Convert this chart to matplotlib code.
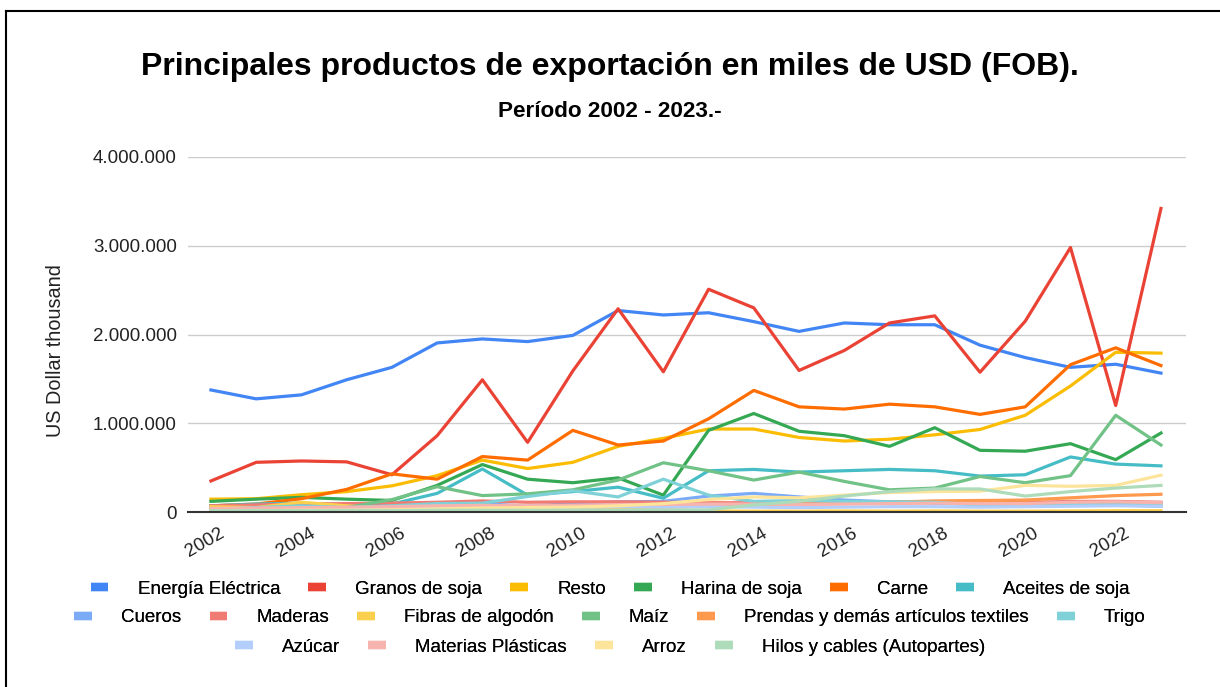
import matplotlib
matplotlib.use("Agg")
import matplotlib.pyplot as plt
import matplotlib.transforms as mtransforms
from matplotlib.lines import Line2D
from matplotlib.ticker import FuncFormatter
import numpy as np

plt.rcParams["font.family"] = ["Liberation Sans", "DejaVu Sans"]

years = list(range(2002, 2024))

# values in thousands of thousand-USD (x1000 when plotted)
energia  = [1375, 1275, 1320, 1490, 1630, 1905, 1950, 1920, 1990, 2270, 2220,
            2245, 2145, 2035, 2130, 2110, 2110, 1880, 1740, 1630, 1665, 1565]
granos   = [350, 560, 575, 565, 420, 860, 1490, 785, 1590, 2290, 1580,
            2510, 2300, 1595, 1820, 2130, 2210, 1575, 2150, 2980, 1200, 3420]
resto    = [145, 150, 195, 230, 295, 410, 585, 490, 560, 740, 830,
            935, 935, 840, 800, 820, 870, 930, 1090, 1420, 1800, 1790]
harina   = [120, 145, 165, 145, 130, 300, 535, 370, 330, 385, 190,
            920, 1110, 910, 860, 740, 950, 695, 685, 770, 590, 890]
carne    = [70, 90, 150, 255, 430, 370, 625, 585, 920, 755, 800,
            1050, 1370, 1185, 1160, 1215, 1185, 1100, 1185, 1660, 1850, 1650]
aceites  = [70, 90, 100, 80, 90, 210, 485, 190, 230, 280, 155,
            465, 480, 450, 465, 480, 465, 405, 420, 620, 540, 520]
cueros   = [60, 70, 75, 85, 90, 100, 95, 65, 95, 115, 120,
            180, 210, 170, 135, 115, 100, 85, 65, 90, 80, 65]
maderas  = [70, 80, 90, 95, 100, 110, 125, 110, 115, 115, 110,
            105, 105, 100, 100, 110, 115, 105, 105, 120, 120, 110]
fibras   = [60, 50, 110, 70, 45, 55, 35, 25, 40, 50, 30,
            12, 10, 10, 12, 10, 12, 10, 10, 12, 15, 15]
maiz     = [30, 40, 30, 50, 140, 285, 185, 205, 250, 360, 555,
            465, 360, 450, 345, 250, 270, 400, 330, 410, 1090, 755]
prendas  = [30, 35, 40, 45, 50, 55, 60, 55, 60, 65, 70,
            80, 85, 90, 95, 110, 125, 130, 135, 160, 185, 200]
trigo    = [30, 50, 70, 50, 70, 95, 100, 175, 240, 170, 370,
            190, 120, 130, 120, 115, 110, 80, 85, 95, 100, 95]
azucar   = [20, 25, 30, 30, 35, 40, 45, 50, 55, 60, 55,
            60, 55, 50, 55, 60, 60, 55, 60, 65, 70, 65]
materias = [40, 45, 50, 55, 60, 70, 75, 70, 75, 85, 85,
            90, 90, 85, 90, 95, 100, 95, 95, 110, 115, 105]
arroz    = [10, 15, 20, 20, 25, 35, 45, 50, 55, 70, 95,
            140, 170, 160, 190, 220, 230, 235, 300, 290, 300, 415]
hilos    = [15, 15, 15, 15, 15, 20, 20, 20, 20, 20, 20,
            25, 80, 120, 180, 230, 260, 260, 180, 230, 270, 300]

series = [
    ("Energía Eléctrica", energia, "#4285f4"),
    ("Granos de soja", granos, "#ea4335"),
    ("Resto", resto, "#fbbc04"),
    ("Harina de soja", harina, "#34a853"),
    ("Carne", carne, "#ff6d01"),
    ("Aceites de soja", aceites, "#46bdc6"),
    ("Cueros", cueros, "#7baaf7"),
    ("Maderas", maderas, "#f07b72"),
    ("Fibras de algodón", fibras, "#fcd04f"),
    ("Maíz", maiz, "#71c287"),
    ("Prendas y demás artículos textiles", prendas, "#ff994d"),
    ("Trigo", trigo, "#7ed1d7"),
    ("Azúcar", azucar, "#b3cefb"),
    ("Materias Plásticas", materias, "#f7b4ae"),
    ("Arroz", arroz, "#fde49b"),
    ("Hilos y cables (Autopartes)", hilos, "#aedcba"),
]
legend_rows = [6, 6, 4]

fig = plt.figure(figsize=(12.2, 6.87), dpi=100)
ax = fig.add_axes([0.154, 0.2547, 0.818, 0.5168])

for name, vals, color in series:
    ax.plot(years, np.array(vals) * 1000, color=color, lw=2.3,
            solid_joinstyle="round", label=name)

ax.set_xlim(2001.49, 2023.55)
ax.set_ylim(0, 4_000_000)
ax.set_yticks([0, 1_000_000, 2_000_000, 3_000_000, 4_000_000])
ax.yaxis.set_major_formatter(FuncFormatter(lambda v, p: f"{int(v):,}".replace(",", ".")))
ax.set_xticks(range(2002, 2023, 2))
ax.grid(axis="y", color="#cccccc", lw=1)
ax.set_axisbelow(True)
for s in ["top", "right", "left"]:
    ax.spines[s].set_visible(False)
ax.spines["bottom"].set_color("#333333")
ax.spines["bottom"].set_linewidth(1.5)
ax.tick_params(axis="both", length=0, labelsize=13.5, colors="#222222")
ax.tick_params(axis="y", pad=8)
ax.tick_params(axis="x", pad=9)
offset = mtransforms.ScaledTranslation(-6 / 100, 0, fig.dpi_scale_trans)
for lbl in ax.get_xticklabels():
    lbl.set_rotation(30)
    lbl.set_ha("center")
    lbl.set_transform(lbl.get_transform() + offset)

ax.set_ylabel("US Dollar thousand", fontsize=14.3, color="#222222")
ax.yaxis.set_label_coords(-0.123, 0.456)

fig.text(0.5, 0.903, "Principales productos de exportación en miles de USD (FOB).",
         ha="center", va="center", fontsize=23, fontweight="bold")
fig.text(0.5, 0.838, "Período 2002 - 2023.-", ha="center", va="center",
         fontsize=16.2, fontweight="bold")

row_y = [0.142, 0.101, 0.058]
start = 0
for n, y in zip(legend_rows, row_y):
    chunk = series[start:start + n]
    start += n
    handles = [Line2D([0], [0], color=c, lw=6, solid_capstyle="butt") for _, _, c in chunk]
    labels = [nm for nm, _, _ in chunk]
    leg = fig.legend(handles, labels, loc="center", bbox_to_anchor=(0.5, y), ncol=n,
                     frameon=False, fontsize=13.5, handlelength=0.95,
                     handletextpad=1.55, columnspacing=1.5, borderpad=0)
    fig.add_artist(leg)

fig.add_artist(Line2D([6 / 1220, 6 / 1220], [0, 1 - 11 / 687], color="black", lw=1.5))
fig.add_artist(Line2D([6 / 1220, 1], [1 - 11 / 687, 1 - 11 / 687], color="black", lw=1.5))

fig.savefig("out.png", dpi=100)
